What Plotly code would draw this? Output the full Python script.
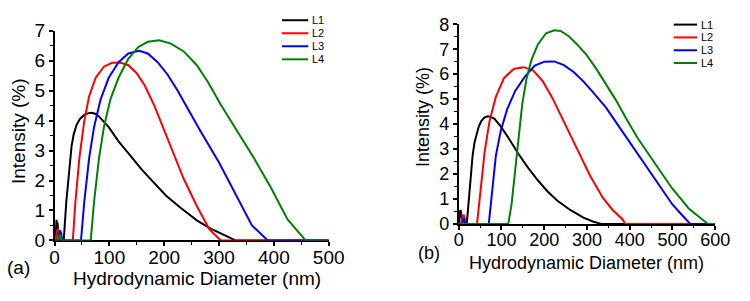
import plotly.graph_objects as go

W, H = 750, 301
FONT = "Liberation Sans, Arial, sans-serif"

series_names = ["L1", "L2", "L3", "L4"]
series_colors = ["#000000", "#FF0000", "#0000FF", "#008000"]

# ---------------- Panel (a) ----------------
a_L1_x = [0, 1.5, 2.5, 3.5, 4.5, 5.5, 6.5, 8, 12, 16.7, 21.4, 25, 28, 31, 35, 40, 46, 54, 62, 68, 75, 81,
          98.8, 116.7, 137.5, 158.3, 179, 203, 229.8, 259.5, 283, 300, 312, 322, 330, 500]
a_L1_y = [0, 0.45, 0.25, 0.69, 0.4, 0.6, 0.2, 0, 0, 0, 1.29, 2.1, 2.7, 3.15, 3.55, 3.85, 4.05, 4.19, 4.25, 4.26,
          4.22, 4.14, 3.78, 3.31, 2.85, 2.38, 1.97, 1.50, 1.09, 0.67, 0.41, 0.26, 0.14, 0.05, 0, 0]

a_L2_x = [0, 2.5, 4, 6, 8, 10, 12, 33.3, 38, 45.2, 54.2, 63, 75, 90, 104.8, 119.6, 134.5, 149.4, 164.3, 182,
          200, 217.9, 235.7, 259.5, 282, 303, 500]
a_L2_y = [0, 0, 0.3, 0.38, 0.3, 0.1, 0, 0, 1.29, 2.74, 3.99, 4.81, 5.43, 5.8, 5.93, 5.94, 5.85, 5.59, 5.18, 4.5,
          3.67, 2.9, 2.05, 1.15, 0.38, 0, 0]

a_L3_x = [0, 6, 8, 10, 12, 14, 48.2, 54.2, 63, 72, 84, 98.8, 116.7, 134.5, 154, 170, 188, 206, 223.8, 247.6,
          265.5, 300, 330, 360, 389, 500]
a_L3_y = [0, 0, 0.15, 0.33, 0.25, 0, 0, 1.29, 2.74, 3.78, 4.71, 5.43, 5.95, 6.24, 6.33, 6.24, 5.95, 5.54, 5.02,
          4.24, 3.67, 2.6, 1.55, 0.5, 0, 0]

a_L4_x = [0, 7, 9, 11, 13, 66, 72, 81, 90, 101.8, 116.7, 134.5, 152.4, 170, 191, 212, 235.7, 259.5, 280, 303,
          333, 363, 395, 425, 458, 500]
a_L4_y = [0, 0, 0.2, 0.15, 0, 0, 1.29, 2.74, 3.78, 4.71, 5.43, 6.06, 6.45, 6.63, 6.68, 6.57, 6.31, 5.85, 5.28,
          4.54, 3.65, 2.77, 1.75, 0.70, 0, 0]

# ---------------- Panel (b) ----------------
b_L1_x = [0, 1.5, 2.5, 3.5, 4.5, 5.5, 7, 9, 19, 25, 28.5, 32.6, 37, 41.7, 47, 53, 60, 68, 75, 83.3, 98.5,
          117.4, 140, 163, 185.6, 208, 231, 261, 291.7, 314, 329.5, 333, 600]
b_L1_y = [0, 0.4, 0.2, 0.5, 0.56, 0.45, 0.1, 0, 0, 1.37, 2.1, 2.73, 3.25, 3.6, 3.9, 4.12, 4.26, 4.31, 4.29,
          4.22, 3.91, 3.42, 2.8, 2.24, 1.74, 1.30, 0.93, 0.56, 0.25, 0.1, 0.02, 0, 0]

b_L2_x = [0, 5, 8, 11.4, 14, 17, 43, 50.8, 60.6, 72, 87, 106, 128.8, 151.5, 174, 197, 219.7, 246, 276.5, 306.8,
          337, 360, 382.6, 390, 600]
b_L2_y = [0, 0, 0.25, 0.37, 0.25, 0, 0, 1.37, 2.86, 4.1, 5.09, 5.84, 6.21, 6.28, 6.15, 5.71, 5.03, 4.1, 3.0, 1.95,
          1.05, 0.56, 0.2, 0, 0]

b_L3_x = [0, 8, 10, 11.5, 13, 16, 70.5, 78, 87, 98.5, 113.6, 132.6, 155, 178, 200.8, 223.5, 246, 269, 291.7, 314,
          344.7, 381, 420, 450, 499, 520, 541.6, 600]
b_L3_y = [0, 0, 0.15, 0.25, 0.15, 0, 0, 1.37, 2.73, 3.73, 4.6, 5.34, 5.9, 6.34, 6.5, 6.51, 6.36, 6.09, 5.71, 5.28,
          4.66, 3.75, 2.78, 2.0, 0.8, 0.4, 0, 0]

b_L4_x = [0, 116, 123.5, 131, 140, 149, 159, 170.5, 185.6, 204.5, 223.5, 238.6, 257.6, 276.5, 299, 322, 344.7,
          367.4, 394, 420, 450, 499, 538, 583, 600]
b_L4_y = [0, 0, 0.75, 1.99, 3.48, 4.84, 5.84, 6.58, 7.2, 7.64, 7.76, 7.73, 7.52, 7.2, 6.77, 6.21, 5.59,
          4.97, 4.15, 3.4, 2.65, 1.43, 0.62, 0, 0]

a_xticks = [0, 100, 200, 300, 400, 500]
a_yticks = [0, 1, 2, 3, 4, 5, 6, 7]
b_xticks = [0, 100, 200, 300, 400, 500, 600]
b_yticks = [0, 1, 2, 3, 4, 5, 6, 7, 8]

x_title = "Hydrodynamic Diameter (nm)"
y_title = "Intensity (%)"
panel_labels = ["(a)", "(b)"]

fig = go.Figure()

a_series = [(a_L1_x, a_L1_y), (a_L2_x, a_L2_y), (a_L3_x, a_L3_y), (a_L4_x, a_L4_y)]
b_series = [(b_L1_x, b_L1_y), (b_L2_x, b_L2_y), (b_L3_x, b_L3_y), (b_L4_x, b_L4_y)]

for (xs, ys), name, col in zip(a_series, series_names, series_colors):
    fig.add_trace(go.Scatter(x=xs, y=ys, mode="lines", name=name, line=dict(color=col, width=2),
                             xaxis="x", yaxis="y", showlegend=False))
for (xs, ys), name, col in zip(b_series, series_names, series_colors):
    fig.add_trace(go.Scatter(x=xs, y=ys, mode="lines", name=name, line=dict(color=col, width=2),
                             xaxis="x2", yaxis="y2", showlegend=False))


def px_x(p):
    return p / W


def px_y(p):
    return 1 - p / H


def axis_common(size):
    return dict(showline=True, linecolor="black", linewidth=1.5, ticks="outside", ticklen=4,
                tickwidth=1.5, tickcolor="black", showgrid=False, zeroline=False,
                tickfont=dict(family=FONT, size=size, color="black"), layer="below traces",
                fixedrange=True)


fig.update_layout(
    width=W, height=H, margin=dict(l=0, r=0, t=0, b=0),
    paper_bgcolor="white", plot_bgcolor="white", showlegend=False,
    xaxis=dict(domain=[px_x(51), px_x(333)], range=[0, 500], tickvals=a_xticks, anchor="y",
               ticklabelstandoff=-5,
               minor=dict(dtick=50, ticks="outside", ticklen=2.5, tickwidth=1.2, tickcolor="black"),
               **axis_common(19)),
    yaxis=dict(domain=[px_y(247.7), px_y(22.3)], range=[0, 7], tickvals=a_yticks, anchor="x",
               minor=dict(dtick=0.5, ticks="outside", ticklen=2.5, tickwidth=1.2, tickcolor="black"),
               **axis_common(19)),
    xaxis2=dict(domain=[px_x(466.7), px_x(730.7)], range=[0, 600], tickvals=b_xticks, anchor="y2",
                ticklabelstandoff=-5,
                minor=dict(dtick=50, ticks="outside", ticklen=2.5, tickwidth=1.2, tickcolor="black"),
                **axis_common(18)),
    yaxis2=dict(domain=[px_y(230), px_y(15.3)], range=[0, 8], tickvals=b_yticks, anchor="x2",
                minor=dict(dtick=0.5, ticks="outside", ticklen=2.5, tickwidth=1.2, tickcolor="black"),
                **axis_common(18)),
)

annotations = []
shapes = []


def add_text(text, cx, cy, size, angle=0, xanchor="center"):
    annotations.append(dict(text=text, x=px_x(cx), y=px_y(cy), xref="paper", yref="paper",
                            showarrow=False, xanchor=xanchor, yanchor="middle", textangle=angle,
                            font=dict(family=FONT, size=size, color="black")))


# axis titles and panel labels
add_text(x_title, 198, 289, 19)
add_text(y_title, 14.5, 130, 19, angle=-90)
add_text(x_title, 598.5, 272, 18)
add_text(y_title, 430, 115, 18, angle=-90)
add_text(panel_labels[0], 14, 277, 19)
add_text(panel_labels[1], 436, 261.5, 18)

# legends (manual, compact)
legend_a = dict(x0=285, x1=312, tx=314, rows=[11, 25, 39, 53])
legend_b = dict(x0=688, x1=712, tx=714, rows=[15.7, 29.5, 43.3, 57])
for lg in (legend_a, legend_b):
    for name, col, ry in zip(series_names, series_colors, lg["rows"]):
        shapes.append(dict(type="line", xref="paper", yref="paper", x0=px_x(lg["x0"]), x1=px_x(lg["x1"]),
                           y0=px_y(ry), y1=px_y(ry), line=dict(color=col, width=2)))
        add_text(name, lg["tx"], ry, 11, xanchor="left")

fig.update_layout(annotations=annotations, shapes=shapes)
fig.write_html("out.html")
